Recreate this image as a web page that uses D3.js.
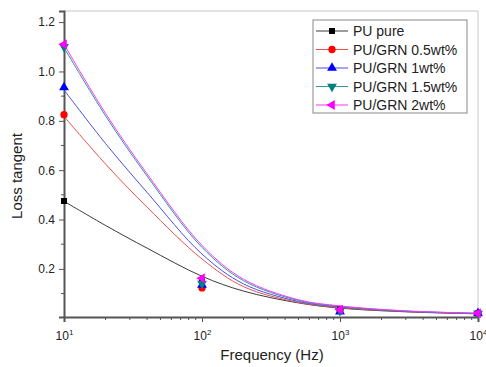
<!DOCTYPE html>
<html lang="en">
<head>
  <meta charset="UTF-8">
  <title>Loss tangent</title>
  <script src="https://d3js.org/d3.v7.min.js"></script>
  <style>
    body { margin: 0; background: #fff; }
    text { font-family: "Liberation Sans", Arial, sans-serif; fill: #222; }
  </style>
</head>
<body>
  <div id="chart"></div>
  <script>
    // measured points
    const markerFreq = [10, 100, 1000, 10000];
    const ptsPure = [0.475, 0.15, 0.035, 0.02];
    const pts05 = [0.825, 0.123, 0.03, 0.02];
    const pts1 = [0.935, 0.135, 0.027, 0.02];
    const pts15 = [1.10, 0.14, 0.03, 0.02];
    const pts2 = [1.11, 0.162, 0.035, 0.02];

    // fitted curves
    const curveFreq = [10, 20, 40, 100, 200, 500, 1000, 3000, 10000];
    const fitPure = [0.474, 0.376, 0.284, 0.17, 0.11, 0.062, 0.041, 0.026, 0.018];
    const fit05 = [0.818, 0.625, 0.45, 0.24, 0.128, 0.064, 0.043, 0.027, 0.018];
    const fit1 = [0.925, 0.708, 0.51, 0.26, 0.139, 0.068, 0.046, 0.028, 0.019];
    const fit15 = [1.097, 0.82, 0.576, 0.287, 0.152, 0.072, 0.048, 0.029, 0.02];
    const fit2 = [1.11, 0.83, 0.585, 0.295, 0.158, 0.075, 0.05, 0.03, 0.02];

    const seriesNames = ["PU pure", "PU/GRN 0.5wt%", "PU/GRN 1wt%", "PU/GRN 1.5wt%", "PU/GRN 2wt%"];
    const yTicks = [0.2, 0.4, 0.6, 0.8, 1.0, 1.2];
    const xTicks = [10, 100, 1000, 10000];

    const series = [
      { name: seriesNames[0], pts: ptsPure, fit: fitPure, color: "#000000", line: "#3a3a3a", sym: d3.symbolSquare, rot: 0 },
      { name: seriesNames[1], pts: pts05, fit: fit05, color: "#ff0000", line: "#e8524f", sym: d3.symbolCircle, rot: 0 },
      { name: seriesNames[2], pts: pts1, fit: fit1, color: "#0000ff", line: "#4d4de0", sym: d3.symbolTriangle, rot: 0 },
      { name: seriesNames[3], pts: pts15, fit: fit15, color: "#008080", line: "#2a9a9a", sym: d3.symbolTriangle, rot: 180 },
      { name: seriesNames[4], pts: pts2, fit: fit2, color: "#ff00ff", line: "#ff33ff", sym: d3.symbolTriangle, rot: -90 }
    ];

    const W = 486, H = 367;
    const mLeft = 64, mRight = 478, mTop = 11, mBottom = 317;

    const svg = d3.select("#chart").append("svg")
      .attr("width", W).attr("height", H);

    const x = d3.scaleLog().domain([10, 10000]).range([mLeft, mRight]);
    const y = d3.scaleLinear().domain([0.005, 1.245]).range([mBottom, mTop]);

    // frame top/right
    svg.append("path")
      .attr("d", `M${mLeft},${mTop}H${mRight}V${mBottom}`)
      .attr("fill", "none").attr("stroke", "#c8c8c8").attr("stroke-width", 1);

    // minor ticks
    const xMinor = [];
    [10, 100, 1000].forEach(d => { for (let k = 2; k <= 9; k++) xMinor.push(d * k); });
    const yMinor = [0.1, 0.3, 0.5, 0.7, 0.9, 1.1];

    const xAxis = svg.append("g")
      .attr("transform", `translate(0,${mBottom})`)
      .call(d3.axisBottom(x).tickValues(xTicks).tickSize(5).tickPadding(9).tickFormat(""));
    xAxis.append("g").selectAll("line").data(xMinor).join("line")
      .attr("x1", d => x(d)).attr("x2", d => x(d)).attr("y1", 0).attr("y2", 3)
      .attr("stroke", "#555");
    xAxis.selectAll(".tick text").each(function (d) {
      const t = d3.select(this).attr("font-size", 12);
      t.append("tspan").text("10");
      t.append("tspan").attr("dy", -5).attr("font-size", 8).text(Math.round(Math.log10(d)));
    });

    const yAxis = svg.append("g")
      .attr("transform", `translate(${mLeft},0)`)
      .call(d3.axisLeft(y).tickValues(yTicks).tickSize(5).tickPadding(4).tickFormat(d3.format(".1f")));
    yAxis.append("g").selectAll("line").data(yMinor).join("line")
      .attr("y1", d => y(d)).attr("y2", d => y(d)).attr("x1", 0).attr("x2", -3)
      .attr("stroke", "#555");
    yAxis.selectAll(".tick text").attr("font-size", 12);

    [xAxis, yAxis].forEach(a => {
      a.select(".domain").attr("stroke", "#555").attr("stroke-width", 2);
      a.selectAll(".tick line").attr("stroke", "#555");
      a.selectAll("text").attr("fill", "#222").attr("font-family", "Liberation Sans, Arial, sans-serif");
    });

    // fitted lines
    const line = d3.line()
      .x(d => x(d[0]))
      .y(d => y(d[1]))
      .curve(d3.curveCatmullRom.alpha(0.5));

    series.forEach(s => {
      svg.append("path")
        .datum(curveFreq.map((f, i) => [f, s.fit[i]]))
        .attr("fill", "none")
        .attr("stroke", s.line)
        .attr("stroke-width", 1)
        .attr("d", line);
    });

    // markers
    series.forEach(s => {
      svg.append("g").selectAll("path")
        .data(markerFreq.map((f, i) => [f, s.pts[i]]))
        .join("path")
        .attr("d", d3.symbol().type(s.sym).size(s.sym === d3.symbolSquare ? 36 : 42))
        .attr("transform", d => `translate(${x(d[0])},${y(d[1])}) rotate(${s.rot})`)
        .attr("fill", s.color);
    });

    // legend
    const lg = svg.append("g");
    lg.append("rect")
      .attr("x", 313).attr("y", 20).attr("width", 154).attr("height", 93)
      .attr("fill", "#fff").attr("stroke", "#888").attr("stroke-width", 1);
    series.forEach((s, i) => {
      const cy = 31 + i * 18.5;
      lg.append("line")
        .attr("x1", 316).attr("x2", 348).attr("y1", cy).attr("y2", cy)
        .attr("stroke", s.line).attr("stroke-width", 1);
      lg.append("path")
        .attr("d", d3.symbol().type(s.sym).size(s.sym === d3.symbolSquare ? 36 : 42))
        .attr("transform", `translate(332,${cy}) rotate(${s.rot})`)
        .attr("fill", s.color);
      lg.append("text")
        .attr("x", 353).attr("y", cy + 5)
        .attr("font-size", 14)
        .text(s.name);
    });

    // axis titles
    svg.append("text")
      .attr("x", (mLeft + mRight) / 2 + 1).attr("y", 360)
      .attr("text-anchor", "middle").attr("font-size", 15)
      .text("Frequency (Hz)");
    svg.append("text")
      .attr("transform", `translate(22,${(mTop + mBottom) / 2 + 12}) rotate(-90)`)
      .attr("text-anchor", "middle").attr("font-size", 15)
      .text("Loss tangent");
  </script>
</body>
</html>
